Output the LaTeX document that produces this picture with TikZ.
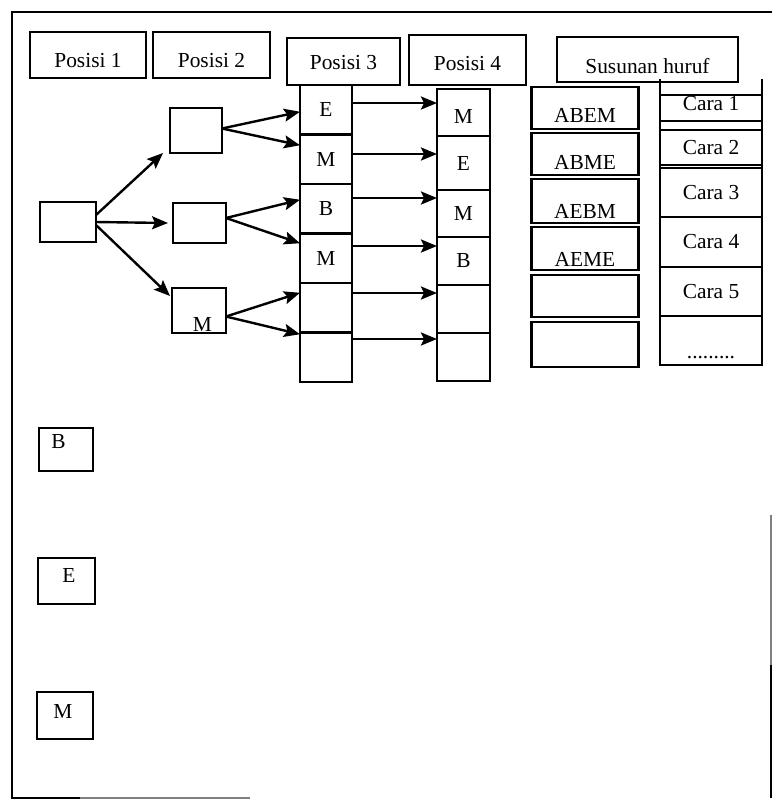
\documentclass[tikz,border=0pt]{standalone}
\usepackage{fontspec}
\setmainfont{Liberation Serif}
\usetikzlibrary{arrows.meta, positioning}

\begin{document}
\begin{tikzpicture}[x=0.5pt, y=-0.5pt, >={Stealth[length=8pt,width=6.5pt,inset=1.5pt]},
  every node/.style={font=\fontsize{10.7pt}{12pt}\selectfont, inner sep=0pt, outer sep=0pt},
  box/.style={draw, line width=1.3pt},
  lowtext/.style={text height=#1, text depth=0pt},
  kolom/.style={box, minimum width=26pt},
  susun/.style={box, minimum width=53.5pt},
  cara/.style={box, minimum width=51pt},
  arr/.style={->, line width=1.2pt}]
\useasboundingbox (0,0) rectangle (772,800);

% bingkai
\draw[line width=1.3pt] (772,12) -- (12,12) -- (12,798) -- (80,798);
\draw[gray, line width=0.8pt] (80,798) -- (250,798);
\draw[gray, line width=0.8pt] (771,515) -- (771,665);
\draw[line width=1.3pt] (771,665) -- (771,798);

% judul kolom
\node (posisi1) [box, minimum width=58pt, minimum height=23pt, lowtext=12pt]     at (88,55)      {Posisi 1};
\node (posisi2) [box, minimum width=58.5pt, minimum height=23pt, lowtext=12.5pt] at (211.5,55)   {Posisi 2};
\node (posisi3) [box, minimum width=56.5pt, minimum height=23.5pt, lowtext=7.6pt] at (343.5,61.5) {Posisi 3};
\node (posisi4) [box, minimum width=58.5pt, minimum height=25pt, lowtext=10.6pt] at (467.5,60)   {Posisi 4};
\node (susunan) [box, minimum width=90.5pt, minimum height=22.5pt, lowtext=13.6pt] at (647.5,59.5) {Susunan huruf};

% diagram pohon
\node (awal) [box, minimum width=28pt, minimum height=20pt]   at (68,222)    {};
\node (duaA) [box, minimum width=26pt, minimum height=22.5pt] at (196,130.5) {};
\node (duaB) [box, minimum width=26.5pt, minimum height=20pt] at (199.5,223) {};
\node (duaC) [box, minimum width=27pt, minimum height=22.5pt,
              label={[xshift=1.75pt,yshift=-6.75pt]center:M}] at (199,310.5) {};

% posisi 3
\node (tigaA) [kolom, minimum height=24.75pt] at (326,109.75)          {E};
\node (tigaB) [kolom, minimum height=24.75pt, below=0pt of tigaA]     {M};
\node (tigaC) [kolom, minimum height=24.75pt, below=0pt of tigaB]     {B};
\node (tigaD) [kolom, minimum height=24.75pt, below=0pt of tigaC]     {M};
\node (tigaE) [kolom, minimum height=24.75pt, below=0pt of tigaD]     {};
\node (tigaF) [kolom, minimum height=24.75pt, below=0pt of tigaE]     {};

% posisi 4
\node (empatA) [kolom, minimum width=26.5pt, minimum height=23.5pt, lowtext=11pt] at (463.5,112.5) {M};
\node (empatB) [kolom, minimum width=26.5pt, minimum height=27pt, below=0pt of empatA]   {E};
\node (empatC) [kolom, minimum width=26.5pt, minimum height=23.5pt, below=0pt of empatB] {M};
\node (empatD) [kolom, minimum width=26.5pt, minimum height=24pt, below=0pt of empatC]   {B};
\node (empatE) [kolom, minimum width=26.5pt, minimum height=24pt, below=0pt of empatD]   {};
\node (empatF) [kolom, minimum width=26.5pt, minimum height=24pt, below=0pt of empatE]   {};

% susunan huruf
\node (susA) [susun, minimum height=21pt, lowtext=14pt] at (585,108)          {ABEM};
\node (susB) [susun, minimum height=21pt, lowtext=15pt, below=2pt of susA]     {ABME};
\node (susC) [susun, minimum height=22pt, lowtext=17pt, below=2pt of susB]     {AEBM};
\node (susD) [susun, minimum height=21.5pt, lowtext=17.5pt, below=2pt of susC] {AEME};
\node (susE) [susun, minimum height=21pt, below=2.5pt of susD]                 {};
\node (susF) [susun, minimum height=22.5pt, below=2.5pt of susE]               {};

% cara
\node (cara1) [cara, minimum height=13pt, text height=7.1pt, text depth=5pt] at (711,108) {Cara 1};
\node (cara2) [cara, minimum height=17.5pt, below=4.5pt of cara1]  {Cara 2};
\node (cara3) [cara, minimum height=24.5pt, below=1.5pt of cara2]  {Cara 3};
\node (cara4) [cara, minimum height=25pt, below=0pt of cara3]      {Cara 4};
\node (cara5) [cara, minimum height=24.5pt, below=0pt of cara4]    {Cara 5};
\node (cara6) [cara, minimum height=24.5pt, lowtext=17.5pt, below=0pt of cara5] {.........};
\draw[line width=1.3pt] ([yshift=8pt]cara1.north west) -- (cara6.south west);
\draw[line width=1.3pt] ([yshift=8pt]cara1.north east) -- (cara6.south east);

% huruf lain di posisi 1
\node (hurufB) [box, minimum width=27pt, minimum height=21.5pt,
                label={[xshift=-3.75pt,yshift=4pt]center:B}] at (66,449.5) {};
\node (hurufE) [box, minimum width=28.5pt, minimum height=23pt,
                label={[xshift=1.25pt,yshift=2.75pt]center:E}] at (66.5,581) {};
\node (hurufM) [box, minimum width=28pt, minimum height=23.5pt,
                label={[xshift=-1pt,yshift=2pt]center:M}] at (65,715.5) {};

% panah
\draw[arr] ([yshift=3.5pt]awal.east) -- ([xshift=-3.5pt]duaA.south west);
\draw[arr] (awal.east) -- ([xshift=-2.5pt]duaB.west);
\draw[arr] ([yshift=-1.5pt]awal.east) -- ([xshift=-1pt,yshift=-4pt]duaC.north west);

\draw[arr] ([yshift=1pt]duaA.east) -- ([yshift=-1pt]tigaA.west);
\draw[arr] ([yshift=1pt]duaA.east) -- ([yshift=7pt]tigaB.west);
\draw[arr] ([yshift=2.5pt]duaB.east) -- ([yshift=4.5pt]tigaC.west);
\draw[arr] ([yshift=2.5pt]duaB.east) -- ([yshift=7.5pt]tigaD.west);
\draw[arr] ([yshift=-3pt]duaC.east) -- ([yshift=7.5pt]tigaE.west);
\draw[arr] ([yshift=-3pt]duaC.east) -- ([yshift=11.5pt]tigaF.west);

\draw[arr] ([yshift=3.375pt]tigaA.east) -- ([yshift=4.75pt]empatA.west);
\draw[arr] ([yshift=2.625pt]tigaB.east) -- ([yshift=4.5pt]empatB.west);
\draw[arr] ([yshift=5.375pt]tigaC.east) -- ([yshift=7.75pt]empatC.west);
\draw[arr] ([yshift=6.125pt]tigaD.east) -- ([yshift=7.5pt]empatD.west);
\draw[arr] ([yshift=7.375pt]tigaE.east) -- ([yshift=8pt]empatE.west);
\draw[arr] ([yshift=9.125pt]tigaF.east) -- ([yshift=9pt]empatF.west);
\end{tikzpicture}
\end{document}
